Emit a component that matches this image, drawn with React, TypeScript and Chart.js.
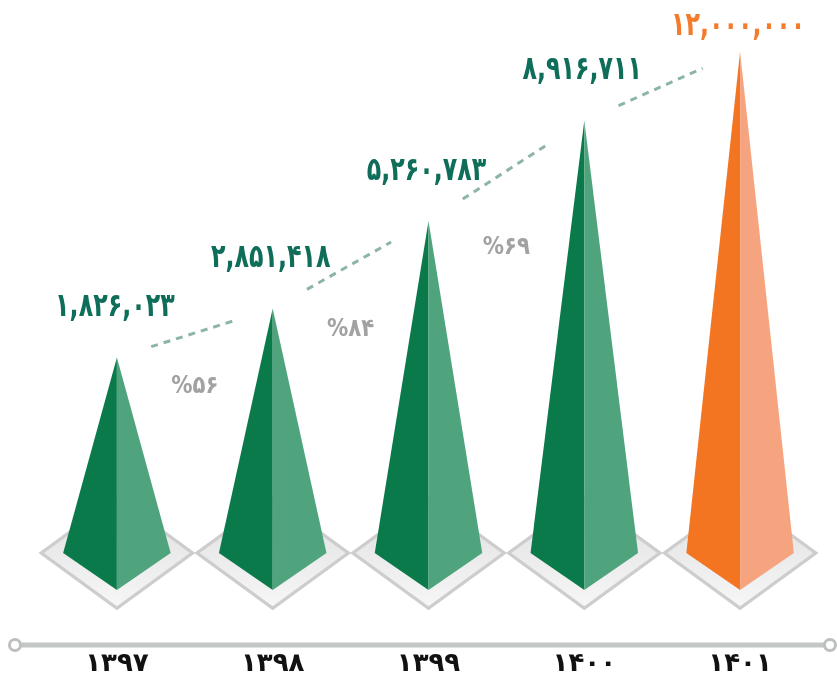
import React, { useEffect, useRef } from 'react';
import { Chart, registerables, LinearScale } from 'chart.js';

// ---- data ----
const years = ['۱۳۹۷', '۱۳۹۸', '۱۳۹۹', '۱۴۰۰', '۱۴۰۱'];
const values = [1826023, 2851418, 5260783, 8916711, 12000000];
const growthPercent = [56, 84, 69];

const faceDark = ['#0b7a4b', '#0b7a4b', '#0b7a4b', '#0b7a4b', '#f37522'];
const faceLight = ['#4fa47d', '#4fa47d', '#4fa47d', '#4fa47d', '#f6a47f'];
const labelColors = ['#0f6e5a', '#0f6e5a', '#0f6e5a', '#0f6e5a', '#f47b2a'];

const FA = '۰۱۲۳۴۵۶۷۸۹';
const toFa = (s: string) => s.replace(/[0-9]/g, (d) => FA[+d]);
const fmt = (n: number) => toFa(n.toLocaleString('en-US'));

class SqrtScale extends LinearScale {
  static id = 'sqrt';
  static defaults = LinearScale.defaults;
  getPixelForValue(value: number) {
    const a = Math.sqrt(Math.max(0, this.min));
    const b = Math.sqrt(Math.max(0, this.max));
    const v = Math.sqrt(Math.max(0, value));
    return this.getPixelForDecimal((v - a) / (b - a));
  }
  getValueForPixel(pixel: number) {
    const a = Math.sqrt(Math.max(0, this.min));
    const b = Math.sqrt(Math.max(0, this.max));
    const s = a + this.getDecimalForPixel(pixel) * (b - a);
    return s * s;
  }
}

Chart.register(...registerables, SqrtScale as any);

const FONT = '"DejaVu Sans", sans-serif';

const pyramidPlugin = {
  id: 'pyramids',
  afterDatasetsDraw(chart: any) {
    const ctx: CanvasRenderingContext2D = chart.ctx;
    const els = chart.getDatasetMeta(0).data;
    const pts = els.map((el: any) => el.getProps(['x', 'y', 'base', 'width'], true));
    ctx.save();

    // base diamonds
    pts.forEach((p: any) => {
      const hw = p.width / 2;
      const DW = hw * 1.46;
      const DH = DW * 0.73;
      const dia = (k: number) => {
        ctx.beginPath();
        ctx.moveTo(p.x - DW * k, p.base);
        ctx.lineTo(p.x, p.base - DH * k);
        ctx.lineTo(p.x + DW * k, p.base);
        ctx.lineTo(p.x, p.base + DH * k);
        ctx.closePath();
      };
      dia(1);
      ctx.fillStyle = '#cdcdcd';
      ctx.fill();
      dia(0.93);
      const g = ctx.createLinearGradient(p.x, p.base - DH, p.x, p.base + DH);
      g.addColorStop(0, '#dedede');
      g.addColorStop(1, '#f7f7f7');
      ctx.fillStyle = g;
      ctx.fill();
    });

    // pyramids
    pts.forEach((p: any, i: number) => {
      const hw = p.width / 2;
      const d = hw * 0.69;
      ctx.beginPath();
      ctx.moveTo(p.x, p.y);
      ctx.lineTo(p.x - hw, p.base);
      ctx.lineTo(p.x, p.base + d);
      ctx.closePath();
      ctx.fillStyle = faceDark[i];
      ctx.fill();
      ctx.beginPath();
      ctx.moveTo(p.x, p.y);
      ctx.lineTo(p.x, p.base + d);
      ctx.lineTo(p.x + hw, p.base);
      ctx.closePath();
      ctx.fillStyle = faceLight[i];
      ctx.fill();
    });

    // dashed connectors between apexes
    ctx.setLineDash([7, 6]);
    ctx.lineWidth = 3;
    ctx.strokeStyle = '#8db5a5';
    for (let i = 0; i < pts.length - 1; i++) {
      const a = pts[i];
      const b = pts[i + 1];
      const t0 = 0.22;
      const t1 = 0.76;
      ctx.beginPath();
      ctx.moveTo(a.x + (b.x - a.x) * t0, a.y + (b.y - a.y) * t0);
      ctx.lineTo(a.x + (b.x - a.x) * t1, a.y + (b.y - a.y) * t1);
      ctx.stroke();
    }
    ctx.setLineDash([]);

    // growth percentages
    ctx.textAlign = 'center';
    ctx.textBaseline = 'middle';
    growthPercent.forEach((g, i) => {
      const a = pts[i];
      const b = pts[i + 1];
      const x = (a.x + b.x) / 2;
      const y = (a.y + b.y) / 2 + 53 + 12 * i;
      ctx.save();
      ctx.translate(x, y);
      ctx.scale(0.85, 1);
      ctx.font = `bold 25px ${FONT}`;
      ctx.fillStyle = '#a2a2a2';
      ctx.fillText('%' + toFa(String(g)), 0, 0);
      ctx.restore();
    });

    // value labels
    pts.forEach((p: any, i: number) => {
      const y = Math.max(p.y - 50, 26);
      ctx.save();
      ctx.translate(p.x - 2, y);
      ctx.scale(0.72, 1);
      ctx.font = `bold 33px ${FONT}`;
      ctx.fillStyle = labelColors[i];
      ctx.fillText(fmt(values[i]), 0, 0);
      ctx.restore();
    });

    // timeline
    const ty = chart.chartArea.bottom + 92;
    const x0 = 15;
    const x1 = chart.width - 7;
    ctx.strokeStyle = '#c3c6c6';
    ctx.lineWidth = 5;
    ctx.beginPath();
    ctx.moveTo(x0, ty);
    ctx.lineTo(x1, ty);
    ctx.stroke();
    [x0, x1].forEach((cx) => {
      ctx.beginPath();
      ctx.arc(cx, ty, 5.5, 0, Math.PI * 2);
      ctx.fillStyle = '#ffffff';
      ctx.fill();
      ctx.lineWidth = 3;
      ctx.strokeStyle = '#bdc0c0';
      ctx.stroke();
    });

    ctx.restore();
  },
};

export default function App() {
  const ref = useRef<HTMLCanvasElement>(null);
  useEffect(() => {
    document.body.style.margin = '0';
    const canvas = ref.current!;
    const chart = new Chart(canvas, {
      type: 'bar',
      data: {
        labels: years,
        datasets: [
          {
            data: values,
            backgroundColor: 'rgba(0,0,0,0)',
            borderWidth: 0,
            barPercentage: 0.69,
            categoryPercentage: 1,
          },
        ],
      },
      options: {
        responsive: false,
        animation: false,
        events: [],
        layout: { padding: { left: 39, right: 19, top: 0, bottom: 0 } },
        plugins: { legend: { display: false }, tooltip: { enabled: false } },
        scales: {
          x: {
            grid: { display: false, drawTicks: true, tickLength: 96 },
            border: { display: false },
            ticks: {
              padding: 0,
              maxRotation: 0,
              autoSkip: false,
              color: '#111111',
              font: { family: FONT, size: 26, weight: 'bold' },
            },
            afterFit: (scale: any) => {
              scale.height = 134;
            },
          },
          y: {
            type: 'sqrt' as any,
            display: false,
            min: 0,
            max: 14600000,
          },
        },
      },
      plugins: [pyramidPlugin],
    } as any);
    return () => chart.destroy();
  }, []);
  return <canvas ref={ref} width={837} height={687} style={{ display: 'block' }} />;
}
